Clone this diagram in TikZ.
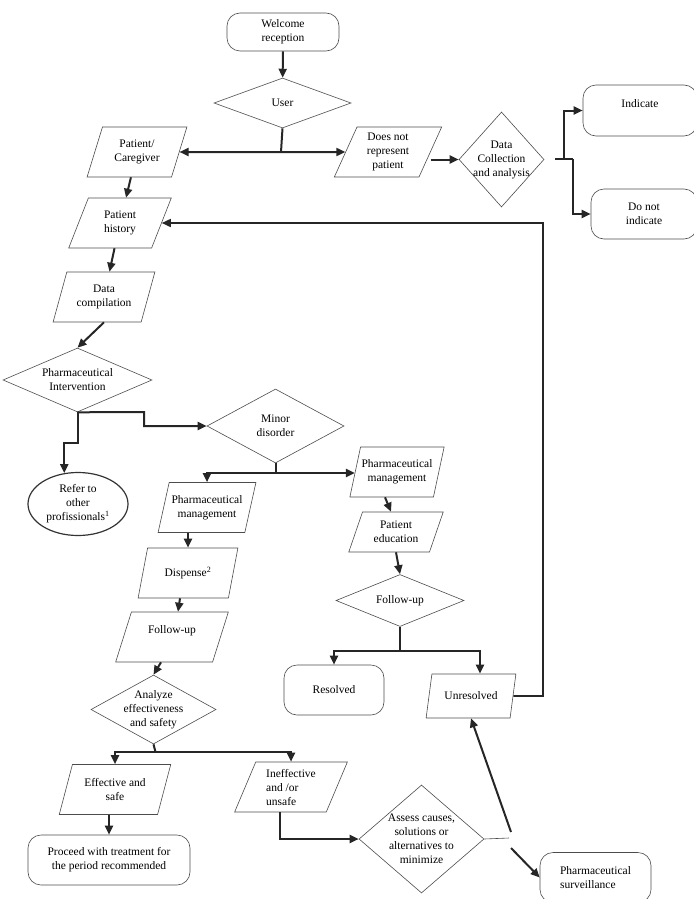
\documentclass[tikz,border=0pt]{standalone}
\usepackage{fontspec}
\setmainfont{Liberation Serif}
\usetikzlibrary{shapes.geometric,arrows.meta,calc}
\tikzset{every node/.style={font=\fontsize{11.5}{14}\selectfont,align=center},
  para/.style={draw=black!70,line width=0.6pt,trapezium,trapezium left angle=68,trapezium right angle=112,trapezium stretches=true,minimum height=50pt,inner sep=1pt},
  choice/.style={draw=black!70,line width=0.6pt,diamond,inner sep=0pt},
  term/.style={draw=black!70,line width=0.6pt,rectangle,rounded corners=13pt,minimum height=50pt},
  flow/.style={line width=2pt,draw=black!85,-{Triangle[length=9pt,width=8pt]}},
  plain/.style={line width=2pt,draw=black!85},
  thinline/.style={line width=0.6pt,draw=black!70}}
\newcommand{\parabox}[4][]{\node[para,#1] at (#2) (#3) {#4}}
\newcommand{\choicept}[4][]{\node[choice,#1] at (#2) (#3) {#4}}
\newcommand{\termbox}[4][]{\node[term,#1] at (#2) (#3) {#4}}

\begin{document}
\begin{tikzpicture}[x=1pt,y=-1pt]
  \useasboundingbox (0,0) rectangle (693,899);

  \termbox[minimum width=112pt,minimum height=38pt]{283,32}{welcome}{Welcome\\reception};
  \choicept[minimum width=137pt,minimum height=50pt,aspect=2.7]{282.5,103}{user}{User};
  \parabox[minimum width=100pt]{137,152}{patient}{Patient/\\Caregiver};
  \parabox[minimum width=108pt]{388,152}{notrep}{Does not\\represent\\patient};
  \choicept[minimum width=85pt,minimum height=95pt,aspect=0.9,inner sep=-3pt]{501.5,159.5}{collect}{Data\\Collection\\and analysis};
  \termbox[minimum width=114pt,minimum height=51pt]{640,110.5}{indicate}{Indicate\\\mbox{}};
  \termbox[minimum width=106pt]{644,214}{noindicate}{Do not\\indicate};
  \parabox[minimum width=103pt]{120,223}{history}{Patient\\history};
  \parabox[minimum width=102pt]{104,297}{compile}{Data\\compilation};
  \choicept[minimum width=149pt,minimum height=64pt,aspect=2.3]{77.5,380}{interv}{Pharmaceutical\\Intervention};
  \choicept[minimum width=137pt,minimum height=74pt,aspect=1.85]{275.5,426}{minor}{Minor\\disorder};
  \node[draw=black!80,line width=1.2pt,ellipse,minimum width=100pt,minimum height=63pt,inner sep=0pt] at (78,504) (refer) {Refer to\\other\\profissionals\textsuperscript{1}};
  \parabox[minimum width=98pt]{207,507.5}{pmleft}{Pharmaceutical\\management};
  \parabox[minimum width=91pt]{397,472}{pmright}{Pharmaceutical\\management};
  \parabox[minimum width=95pt,minimum height=40pt]{396,532}{educ}{Patient\\education};
  \choicept[minimum width=128pt,minimum height=52pt,aspect=2.5]{400,600.5}{furight}{Follow-up};
  \parabox[minimum width=100pt]{188,573}{dispense}{Dispense\textsuperscript{2}};
  \parabox[minimum width=113pt]{172,637}{fuleft}{Follow-up\\\mbox{}};
  \choicept[minimum width=125pt,minimum height=69pt,aspect=1.8,inner sep=-2pt]{153.5,709.5}{analyze}{Analyze\\effectiveness\\and safety};
  \parabox[minimum width=112pt]{115,789.5}{effective}{Effective and\\safe};
  \parabox[minimum width=113pt,align=left]{291,787}{ineff}{Ineffective\\and /or\\unsafe};
  \termbox[minimum width=162pt]{109,860}{proceed}{Proceed with treatment for\\the period recommended};
  \choicept[minimum width=125pt,minimum height=108pt,aspect=1.16]{421.5,839}{assess}{Assess causes,\\solutions or\\alternatives to\\minimize};
  \termbox[minimum width=111pt,align=left]{595.5,877.5}{surv}{Pharmaceutical\\surveillance};
  \termbox[minimum width=100pt]{334,690}{resolved}{Resolved};
  \parabox[minimum width=90pt,minimum height=44pt]{471,696}{unres}{Unresolved};

  \coordinate (j1) at (281,152);
  \coordinate (c1) at (555,159);
  \coordinate (c2) at (564,159);
  \coordinate (c3) at (573,159);
  \coordinate (i1) at (144,412);
  \coordinate (i2) at (77.5,443);
  \coordinate (m1) at (275.5,473);
  \coordinate (f1) at (400,651);
  \coordinate (a1) at (155.5,752);
  \coordinate (s1) at (509,838);
  \coordinate (s2) at (511,832);
  \coordinate (s3) at (511,848);
  \coordinate (h1) at (543,223);

  % top part
  \draw[flow] (welcome) -- (user);
  \draw[plain] (user.south) -- (j1);
  \draw[flow] (j1) -- (patient.east);
  \draw[flow] (j1) -- (notrep.west);
  \draw[flow] (notrep.east |- collect.west) -- (collect.west);
  \draw[plain] (c1) -- (c3);
  \draw[flow] (c2) |- (indicate.west);
  \draw[flow] (c3) |- (noindicate.west);
  \draw[flow] (patient) -- (history);
  \draw[flow] (history) -- (compile);
  \draw[flow] (compile.south) -- (interv.north);

  % intervention
  \draw[flow] (interv.south) -- (i1) |- (minor.west);
  \draw[flow] (interv.south) -- (i2) -| (refer.114);
  \draw[plain] (minor.south) -- (m1);
  \draw[flow] (m1) -| (pmleft.north);
  \draw[flow] (m1) -- (m1 -| pmright.west);

  % right branch
  \draw[flow] ([xshift=-12pt]pmright.south) -- ([xshift=-5pt]educ.north);
  \draw[flow] (educ.south) -- (furight.north);
  \draw[plain] (furight.south) -- (f1);
  \draw[flow] (f1) -| (resolved.north);
  \draw[flow,line width=2.6pt] (f1) -| ([xshift=9pt]unres.north);

  % left branch
  \draw[flow] (pmleft.south -| dispense.north) -- (dispense.north);
  \draw[flow] ([xshift=-8pt]dispense.south) -- ([xshift=6pt]fuleft.north);
  \draw[flow] ([xshift=-11pt]fuleft.south) -- (analyze.north);
  \draw[plain] (analyze.south) -- (a1);
  \draw[flow] (a1) -| (effective.north);
  \draw[flow] (a1) -| (ineff.north);
  \draw[flow] (effective.south -| proceed.north) -- (proceed.north);
  \draw[flow] ([xshift=-11pt]ineff.south) |- (assess.west);
  \draw[thinline] (assess.east) -- (s1);
  \draw[flow] (s2) -- (unres.south);
  \draw[flow] (s3) -- (surv.west);

  % back to history
  \draw[flow,line width=1.6pt] (unres.east) -| (h1) -- (history.east);
\end{tikzpicture}
\end{document}
